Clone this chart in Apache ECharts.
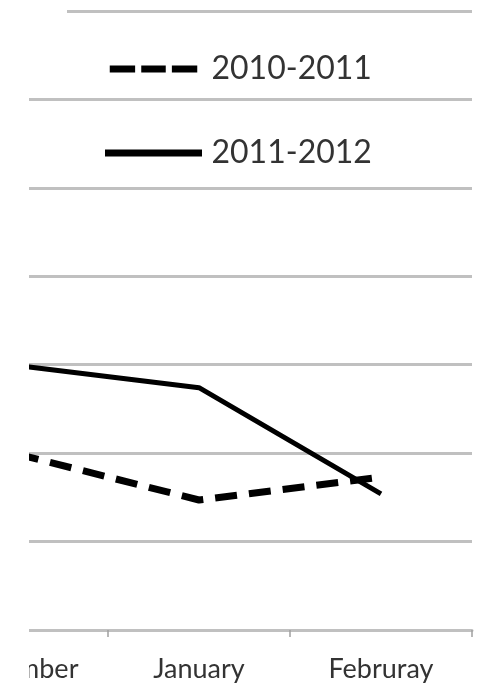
<!DOCTYPE html>
<html>
<head>
<meta charset="utf-8">
<script src="https://cdn.jsdelivr.net/npm/echarts@6/dist/echarts.min.js"></script>
<style>
  html, body { margin: 0; padding: 0; background: #fff; }
  #main { width: 482px; height: 683px; }
</style>
</head>
<body>
<div id="main"></div>
<script>
  // 数据
  var months = ['December', 'January', 'Februray'];
  var season1011 = [19.9, 14.7, 17.3];
  var season1112 = [29.9, 27.4, 15.4];

  var chart = echarts.init(document.getElementById('main'));
  chart.setOption({
    backgroundColor: '#fff',
    animation: false,
    grid: { left: -74, right: 10, top: 11, bottom: 53, outerBoundsMode: 'none', containLabel: false },
    legend: {
      orient: 'vertical',
      left: 100,
      top: 48,
      itemWidth: 100,
      itemHeight: 7,
      itemGap: 52,
      textStyle: { fontFamily: 'Lato', fontSize: 32, color: '#333', padding: [0, 0, 0, 3] },
      data: [
        { name: '2010-2011', icon: 'path://M0,0H29V8H0Z M36,0H64V8H36Z M71,0H100V8H71Z' },
        { name: '2011-2012', icon: 'path://M3,0H100V7H3Z' }
      ]
    },
    xAxis: {
      type: 'category',
      data: months,
      boundaryGap: true,
      axisLine: { lineStyle: { color: '#c0c0c0', width: 3 } },
      axisTick: { show: true, length: 7, lineStyle: { color: '#a0a0a0', width: 1.5 } },
      axisLabel: { interval: 0, fontFamily: 'Lato', fontSize: 27, color: '#333', margin: 26 }
    },
    yAxis: {
      type: 'value',
      min: 0,
      max: 70,
      interval: 10,
      axisLabel: { show: false },
      axisLine: { show: false },
      axisTick: { show: false },
      splitLine: { lineStyle: { color: '#c0c0c0', width: 3 } }
    },
    series: [
      {
        name: '2010-2011',
        type: 'line',
        data: season1011,
        symbol: 'none',
        lineStyle: { color: '#000', width: 7, type: [22, 12] },
        itemStyle: { color: '#000' }
      },
      {
        name: '2011-2012',
        type: 'line',
        data: season1112,
        symbol: 'none',
        lineStyle: { color: '#000', width: 5 },
        itemStyle: { color: '#000' }
      }
    ],
    graphic: [
      // 左侧裁切
      { type: 'rect', left: 0, top: 0, z: 100, shape: { width: 29, height: 683 }, style: { fill: '#fff' } },
      { type: 'rect', left: 29, top: 4, z: 100, shape: { width: 38, height: 14 }, style: { fill: '#fff' } }
    ]
  });
</script>
</body>
</html>
